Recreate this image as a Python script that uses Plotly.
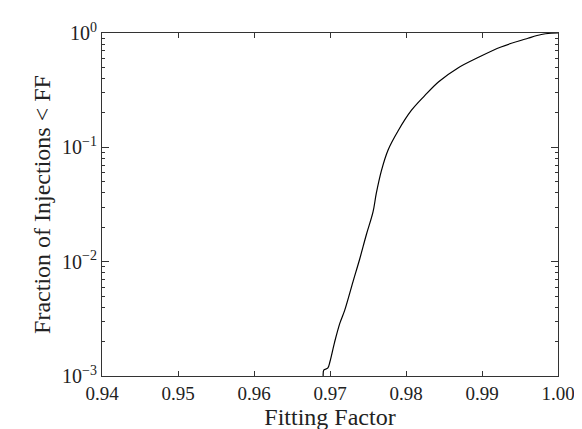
import plotly.graph_objects as go

fitting_factor = [0.9691, 0.9692, 0.9697, 0.9700, 0.9706, 0.9713, 0.97193, 0.97303, 0.9739,
                  0.97478, 0.97566, 0.97609, 0.97675, 0.97763, 0.97895, 0.98070, 0.98246,
                  0.9843, 0.98684, 0.98947, 0.9925, 0.99605, 0.99780, 0.99908, 1.0]
fraction = [0.00100, 0.00113, 0.00117, 0.00134, 0.00197, 0.0029, 0.00375, 0.0067, 0.0105,
            0.0172, 0.0272, 0.0395, 0.062, 0.0944, 0.139, 0.210, 0.283,
            0.375, 0.495, 0.610, 0.755, 0.900, 0.970, 0.995, 1.0]

x_ticks = [0.94, 0.95, 0.96, 0.97, 0.98, 0.99, 1.00]
x_ticklabels = ["0.94", "0.95", "0.96", "0.97", "0.98", "0.99", "1.00"]
y_ticks = [1e-3, 1e-2, 1e-1, 1]
y_ticklabels = ["10<sup>−3</sup>", "10<sup>−2</sup>", "10<sup>−1</sup>", "10<sup>0</sup>"]
y_minor = [m * 10 ** e for e in (-3, -2, -1) for m in range(2, 10)]

font_family = "Liberation Serif, DejaVu Serif, Noto Serif, Times New Roman, serif"

fig = go.Figure()
fig.add_trace(go.Scatter(x=fitting_factor, y=fraction, mode="lines",
                         line=dict(color="black", width=1.2, shape="spline", smoothing=1.0),
                         showlegend=False))

fig.update_layout(
    width=582, height=429,
    margin=dict(l=94, r=32, t=18, b=54),
    paper_bgcolor="white", plot_bgcolor="white",
    font=dict(family=font_family, color="#222", size=18),
    xaxis=dict(range=[0.94, 1.00], tickvals=x_ticks, ticktext=x_ticklabels,
               ticks="inside", ticklen=5, tickcolor="#333", showline=True,
               linecolor="#333", linewidth=1, mirror="ticks", showgrid=False,
               zeroline=False, tickfont=dict(size=19),
               title=dict(text="Fitting Factor", font=dict(size=24), standoff=4)),
    yaxis=dict(type="log", range=[-3, 0], tickvals=y_ticks, ticktext=y_ticklabels,
               ticks="inside", ticklen=7, tickcolor="#333", showline=True,
               linecolor="#333", linewidth=1, mirror="ticks", showgrid=False,
               zeroline=False, tickfont=dict(size=20),
               minor=dict(tickvals=y_minor, ticks="inside", ticklen=3, tickcolor="#333",
                          showgrid=False),
               title=dict(text="Fraction of Injections < FF", font=dict(size=24), standoff=4)),
)

fig.write_html("out.html")
